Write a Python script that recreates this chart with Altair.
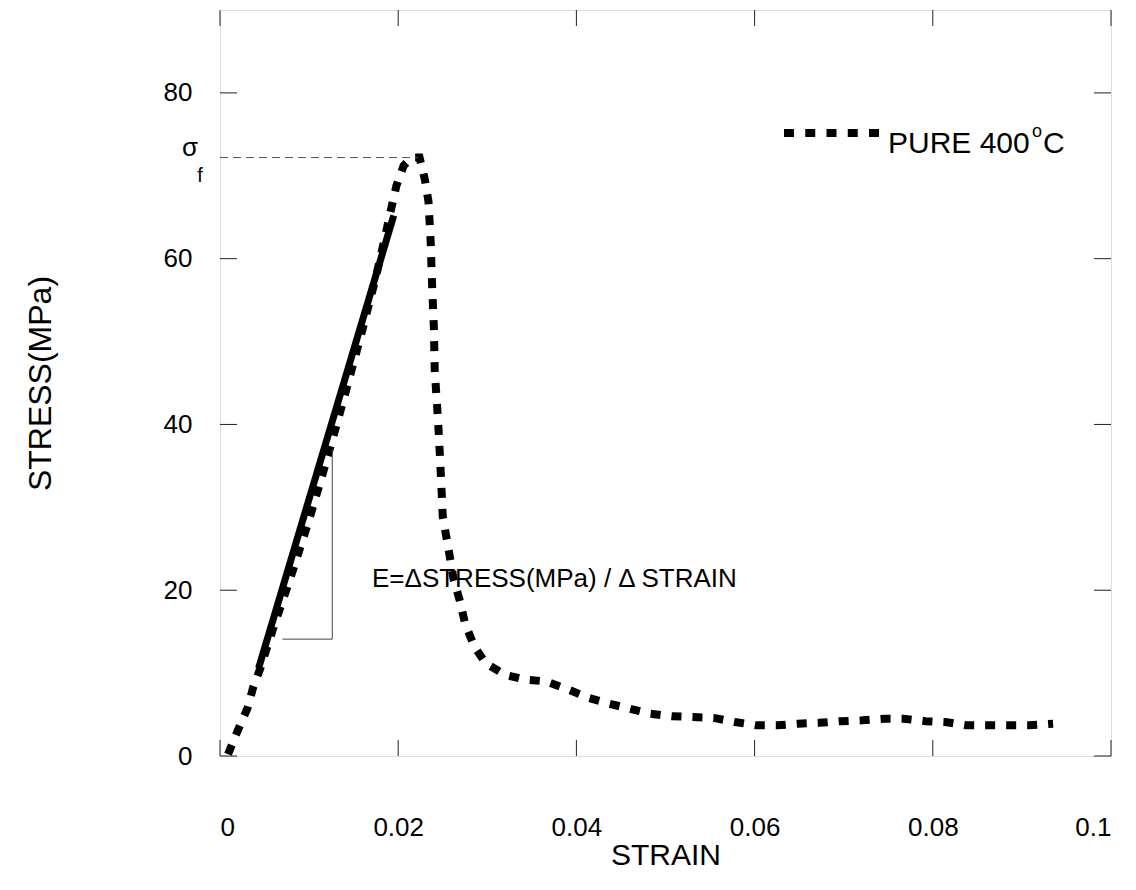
import altair as alt
import pandas as pd

# ---- data ----
strain = [0.0009, 0.002, 0.0031, 0.0037, 0.0045, 0.006, 0.008, 0.010, 0.012, 0.014,
          0.016, 0.0175, 0.0185, 0.0191, 0.0198, 0.0206, 0.0215, 0.0224, 0.0230,
          0.0234, 0.02365, 0.0238, 0.0240, 0.0241, 0.0244, 0.02455, 0.02478, 0.0250,
          0.0258, 0.0262, 0.0269, 0.0275, 0.0285, 0.0298, 0.0320, 0.0343, 0.0366,
          0.0389, 0.0414, 0.0437, 0.0460, 0.0483, 0.0507, 0.0531, 0.0554, 0.0578,
          0.0602, 0.0625, 0.0649, 0.0672, 0.0697, 0.0721, 0.0746, 0.0767, 0.0792,
          0.0814, 0.0838, 0.0861, 0.0884, 0.0908, 0.0935]
stress = [0.2, 3.1, 5.8, 8.2, 10.5, 15.5, 21.8, 28.5, 35.8, 43.5,
          51.5, 57.8, 62.5, 65.5, 68.8, 71.2, 72.2, 72.2, 69.5,
          66.9, 61.9, 56.9, 51.8, 46.5, 41.7, 39.0, 34.1, 28.9,
          24.0, 21.4, 18.8, 16.0, 13.3, 11.2, 9.8, 9.2, 9.0,
          8.1, 7.0, 6.3, 5.7, 5.1, 4.8, 4.7, 4.6, 4.1,
          3.7, 3.7, 3.9, 4.0, 4.2, 4.3, 4.5, 4.5, 4.2,
          4.1, 3.7, 3.7, 3.7, 3.7, 3.9]
fit_strain = [0.00433, 0.0195]
fit_stress = [10.6, 65.2]
x_ticks = [0, 0.02, 0.04, 0.06, 0.08, 0.1]
y_ticks = [0, 20, 40, 60, 80]
sigma_f_stress = 72.2
sigma_f_strain = 0.0222
tri_strain = [0.0070, 0.0126]
tri_stress = [14.1, 37.0]

FONT = "Liberation Sans"
W, H = 891, 746

curve_df = pd.DataFrame({"strain": strain, "stress": stress, "i": list(range(len(strain)))})
fit_df = pd.DataFrame({"strain": fit_strain, "stress": fit_stress})
xt_df = pd.DataFrame({"strain": x_ticks})
yt_df = pd.DataFrame({"stress": y_ticks})

xs = alt.Scale(domain=[0, 0.1], nice=False, zero=False)
ys = alt.Scale(domain=[0, 90], nice=False, zero=False)

x_axis = alt.Axis(
    values=x_ticks, format="~g", title="STRAIN", grid=False, domain=False, ticks=False,
    labelFont=FONT, labelFontSize=26, labelColor="black", labelPadding=58,
    titleFont=FONT, titleFontSize=30, titleFontWeight="normal", titleColor="black",
    titleBaseline="middle", titleY=99)
y_axis = alt.Axis(
    values=y_ticks, title="STRESS(MPa)", grid=False, domain=False, ticks=False,
    labelFont=FONT, labelFontSize=26, labelColor="black", labelPadding=28,
    titleFont=FONT, titleFontSize=32, titleFontWeight="normal", titleColor="black",
    titleBaseline="middle", titleX=-180, titleY=373)


def X(f):
    return alt.X(f, scale=xs, axis=x_axis)


def Y(f):
    return alt.Y(f, scale=ys, axis=y_axis)


curve = alt.Chart(curve_df).mark_line(
    color="black", strokeWidth=8, strokeDash=[10, 11], strokeCap="butt"
).encode(x=X("strain:Q"), y=Y("stress:Q"), order="i:Q")

fit = alt.Chart(fit_df).mark_line(color="black", strokeWidth=7, strokeCap="butt").encode(
    x=X("strain:Q"), y=Y("stress:Q"))

sig_line = alt.Chart(pd.DataFrame({"strain": [0.0], "x1": [sigma_f_strain], "stress": [sigma_f_stress]})).mark_rule(
    color="#555", strokeWidth=1, strokeDash=[8, 5]
).encode(x=X("strain:Q"), x2="x1:Q", y=Y("stress:Q"))

tri_h = alt.Chart(pd.DataFrame({"strain": [tri_strain[0]], "x1": [tri_strain[1]], "stress": [tri_stress[0]]})).mark_rule(
    color="#444", strokeWidth=1
).encode(x=X("strain:Q"), x2="x1:Q", y=Y("stress:Q"))

tri_v = alt.Chart(pd.DataFrame({"strain": [tri_strain[1]], "stress": [tri_stress[0]], "y1": [tri_stress[1]]})).mark_rule(
    color="#444", strokeWidth=1
).encode(x=X("strain:Q"), y=Y("stress:Q"), y2="y1:Q")

tick_style = dict(color="#222", strokeWidth=1)
xt_bot = alt.Chart(xt_df).mark_rule(**tick_style).encode(
    x=X("strain:Q"), y=alt.value(H), y2=alt.value(H - 16))
xt_top = alt.Chart(xt_df).mark_rule(**tick_style).encode(
    x=X("strain:Q"), y=alt.value(0), y2=alt.value(16))
yt_left = alt.Chart(yt_df).mark_rule(**tick_style).encode(
    y=Y("stress:Q"), x=alt.value(0), x2=alt.value(17))
yt_right = alt.Chart(yt_df).mark_rule(**tick_style).encode(
    y=Y("stress:Q"), x=alt.value(W), x2=alt.value(W - 17))

leg_line = alt.Chart(pd.DataFrame({"a": [0]})).mark_rule(
    color="black", strokeWidth=8, strokeDash=[10, 11.25], strokeCap="butt"
).encode(x=alt.value(564), x2=alt.value(659), y=alt.value(123))


def txt(s, x, y, size, align="left", baseline="alphabetic", color="black"):
    return alt.Chart(pd.DataFrame({"t": [s]})).mark_text(
        font=FONT, fontSize=size, align=align, baseline=baseline, color=color
    ).encode(x=alt.value(x), y=alt.value(y), text="t:N")


leg_t1 = txt("PURE 400", 668, 143, 30)
leg_o = txt("o", 812, 127, 18)
leg_c = txt("C", 823, 143, 30)
sig_t = txt("σ", -30, 146, 26, align="center")
sig_f = txt("f", -20, 172, 20, align="center")
e_txt = txt("E=ΔSTRESS(MPa) / Δ STRAIN", 152, 577, 26)

chart = alt.layer(
    curve, fit, sig_line, tri_h, tri_v, xt_bot, xt_top, yt_left, yt_right,
    leg_line, leg_t1, leg_o, leg_c, sig_t, sig_f, e_txt
).properties(
    width=W, height=H,
    autosize=alt.AutoSizeParams(type="none"),
    padding={"left": 212, "top": 2, "right": 10, "bottom": 120},
).configure_view(stroke="#333", strokeWidth=1.5).configure(background="white")

chart.save("out.html", embed_options={"renderer": "svg", "actions": False})
